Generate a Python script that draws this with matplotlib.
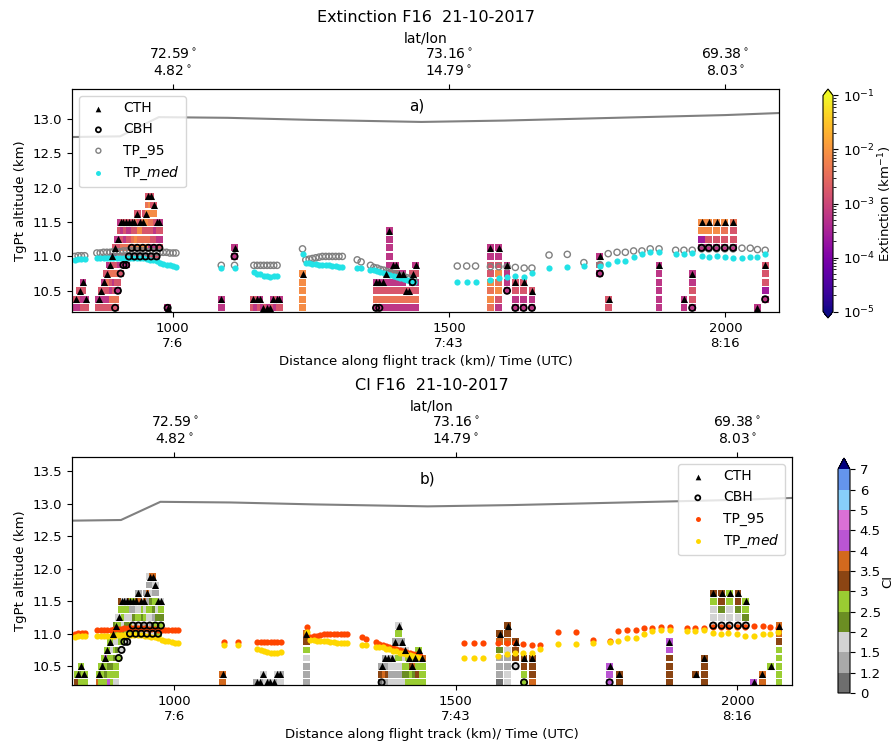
import numpy as np
import matplotlib
matplotlib.use("Agg")
import matplotlib.pyplot as plt
from matplotlib.colors import LogNorm, ListedColormap, BoundaryNorm
from matplotlib.cm import ScalarMappable

plt.rcParams['font.size'] = 9.5

# vertical grid of the profiles (km)
lvl0, dz = 10.25, 0.125

# flight altitude
flight_km = [818, 905, 975, 1100, 1250, 1450, 1600, 1800, 2000, 2098]
flight_alt = [12.74, 12.75, 13.03, 13.02, 12.99, 12.96, 12.98, 13.02, 13.06, 13.09]

# tropopause (95th percentile / median)
tp_km = [823, 829, 835, 841,
         863, 869, 875, 881, 887, 893, 899, 905, 911, 917, 923, 929, 935, 941, 947, 953, 959, 965, 971, 977, 983, 989, 995, 1001, 1006,
         1088, 1112,
         1147, 1153, 1159, 1165, 1171, 1177, 1183, 1189,
         1235,
         1241, 1247, 1253, 1259, 1265, 1271, 1277, 1283, 1289, 1295, 1301, 1307,
         1334, 1341, 1358,
         1364, 1370, 1376, 1382, 1388, 1394, 1400, 1406, 1412, 1418, 1424, 1430, 1436,
         1515, 1532, 1548,
         1575, 1590, 1605, 1620, 1636, 1650,
         1681, 1714, 1744, 1773, 1788, 1804, 1819, 1834, 1849, 1864, 1880,
         1910, 1925, 1940, 1957, 1970, 1984, 1999, 2014, 2030, 2045, 2058, 2072]
tp95 = [11.00, 11.01, 11.01, 11.01,
        11.05, 11.05, 11.06, 11.06, 11.06, 11.07, 11.07, 11.07, 11.08, 11.08, 11.08, 11.08, 11.08, 11.08, 11.08,
        11.07, 11.07, 11.07, 11.06, 11.06, 11.06, 11.06, 11.05, 11.05, 11.05,
        10.87, 10.87,
        10.87, 10.87, 10.87, 10.87, 10.87, 10.87, 10.87, 10.87,
        11.11,
        10.95, 10.96, 10.97, 10.98, 10.99, 11.00, 11.00, 11.00, 11.00, 11.00, 11.00, 11.00,
        10.95, 10.92, 10.87,
        10.84, 10.83, 10.81, 10.80, 10.78, 10.77, 10.75, 10.74, 10.72, 10.71, 10.69, 10.68, 10.66,
        10.86, 10.86, 10.86,
        10.85, 10.85, 10.85, 10.84, 10.83, 10.83,
        11.02, 11.03, 10.91, 10.88, 11.04, 11.06, 11.06, 11.08, 11.08, 11.11, 11.11,
        11.09, 11.09, 11.09, 11.11, 11.11, 11.11, 11.11, 11.11, 11.12, 11.12, 11.10, 11.09]
tpmed = [10.95, 10.96, 10.96, 10.96,
         10.97, 10.97, 10.97, 10.97, 10.97, 10.97, 10.98, 10.98, 10.98, 10.98, 10.98, 10.98, 10.98, 10.98,
         10.97, 10.96, 10.95, 10.95, 10.93, 10.91, 10.89, 10.88, 10.87, 10.86, 10.85,
         10.83, 10.83,
         10.77, 10.75, 10.74, 10.72, 10.71, 10.70, 10.71, 10.72,
         11.03,
         10.90, 10.90, 10.89, 10.89, 10.88, 10.88, 10.87, 10.87, 10.86, 10.86, 10.85, 10.85,
         10.83, 10.83, 10.80,
         10.80, 10.79, 10.77, 10.76, 10.74, 10.73, 10.71, 10.70, 10.68, 10.67, 10.65, 10.64, 10.63,
         10.63, 10.63, 10.63,
         10.655, 10.68, 10.70, 10.71, 10.70, 10.76,
         10.835, 10.84, 10.86, 10.865, 10.885, 10.93, 10.94, 10.99, 11.04, 11.06, 11.06,
         11.04, 11.04, 11.05, 11.01, 10.99, 11.01, 10.99, 10.97, 10.97, 10.99, 10.99, 11.03]

# --- panel a: extinction profiles (cells listed from base level upward) ---
ext_val = {'v': 2.5e-4, 'm': 6e-4, 'p': 1.6e-3, 's': 4e-3, 'o': 8e-3}
ext_km = [826, 832, 838, 843,
          866, 871, 876, 881, 886, 891, 896, 901, 906, 911, 916, 921, 926, 931, 936, 941, 946, 951, 956, 961, 966, 971, 976,
          991, 1088, 1112,
          1146, 1152, 1158, 1164, 1170, 1176, 1182, 1188, 1193,
          1235,
          1368, 1374, 1380, 1386, 1392, 1398, 1404, 1410, 1416, 1422, 1428, 1434, 1440,
          1575, 1590, 1605, 1620, 1635, 1650,
          1773, 1789, 1880, 1925, 1940,
          1957, 1970, 1984, 1999, 2014, 2058, 2072]
ext_base = [0, 0, 0, 0,
            0, 0, 0, 0, 0, 0, 0, 2, 4, 5, 5, 6, 7, 6, 7, 6, 7, 6, 7, 6, 7, 6, 7,
            0, 0, 6,
            0, 0, 0, 0, 0, 0, 0, 0, 0,
            0,
            0, 0, 0, 0, 0, 0, 0, 0, 0, 0, 0, 0, 0,
            0, 0, 2, 0, 0, 0,
            4, 0, 0, 0, 0,
            7, 7, 7, 7, 7, 0, 1]
ext_cells = ["mp", "mpp", "pmpm", "pm",
             "pm", "pmp", "pmpm", "pmpmp", "pmpspm", "psmpspm", "pspmspmp", "mpspmpm", "pmspmpm",
             "mpspmp", "mpsmpp", "pspmp", "spmp", "psspp", "sopsp", "posop", "osop", "pospop",
             "ospoosp", "pmspsoop", "mppsop", "pmpmp", "pmpm",
             "m", "mm", "mm",
             "pp", "mp", "pm", "m", "p", "m", "pm", "mp", "pm",
             "ooooo",
             "mspm", "mspm", "mspm", "mspmp", "mspmmmmmmm", "mspmpm", "mspmpm", "mspmp", "mspmm",
             "msp", "msp", "mspmp", "mspmpm",
             "sosoppmm", "mposopmm", "mmmm", "mmpp", "mmpp", "mmp",
             "mpm", "pp", "mmmmmm", "mm", "mppmm",
             "mvoo", "mpoo", "mpoo", "mpso", "mpps", "m", "mvppp"]
ext_cth = [1, 2, 3, 1,
           1, 2, 3, 4, 5, 6, 7, 8, 10, 10, 10, 10, 10, 10, 11, 10, 10, 11, 13, 13, 12, 10, 10,
           0, 1, 7,
           1, 1, 1, 0, 0, 0, 1, 1, 1,
           4,
           3, 3, 3, 4, 9, 5, 5, 4, 4, 2, 2, 4, 5,
           7, 7, 5, 3, 3, 2,
           6, 1, 5, 1, 4,
           10, 10, 10, 10, 10, 0, 5]
ext_cbh = [None, None, None, None,
           None, None, None, None, None, None, 0, 2, 4, 5, 5, 6, 7, 6, 7, 6, 7, 6, 7, 6, 7, 6, 7,
           0, None, 6,
           None, None, None, None, None, None, None, None, None,
           None,
           0, 0, None, None, None, None, None, None, None, None, None, 3, None,
           None, None, 2, 0, 0, 0,
           4, None, None, None, 0,
           7, 7, 7, 7, 7, None, 1]

# --- panel b: cloud index profiles ---
ci_bounds = [0, 1.2, 1.5, 2, 2.5, 3, 3.5, 4, 4.5, 5, 6, 7]
ci_colors = ['#6e6e6e', '#a9a9a9', '#d3d3d3', '#6b8e23', '#9acd32', '#8b4513',
             '#d2691e', '#ba55d3', '#da70d6', '#87cefa', '#6495ed']
ci_val = {'k': 1.0, 'g': 1.35, 'l': 1.75, 'O': 2.25, 'y': 2.75, 'b': 3.25,
          'c': 3.75, 'v': 4.25, 'r': 4.75, 's': 5.5}
ci_km = [828, 834, 840,
         866, 871, 876, 881, 886, 891, 896, 901, 906, 911, 916, 921, 926, 931, 936, 941, 946, 951, 956, 961, 966, 971, 976,
         1086,
         1146, 1152, 1158, 1164, 1170, 1176, 1182, 1188,
         1234,
         1368, 1374, 1380, 1386, 1392, 1398, 1404, 1410, 1416, 1422, 1428, 1434, 1440,
         1578, 1592, 1606, 1621, 1636,
         1773, 1790, 1879, 1926, 1941,
         1957, 1972, 1986, 2001, 2015,
         2029, 2044, 2059, 2074]
ci_base = [0, 0, 0,
           0, 0, 0, 0, 0, 0, 0, 3, 4, 5, 5, 6, 7, 6, 7, 6, 7, 6, 7, 6, 7, 6, 7,
           0,
           0, 0, 0, 0, 0, 0, 0, 0,
           0,
           0, 0, 0, 0, 0, 0, 0, 0, 0, 0, 0, 0, 0,
           0, 0, 2, 0, 0,
           0, 0, 0, 1, 0,
           7, 7, 7, 7, 7,
           0, 0, 2, 0]
ci_cells = ["by", "yOy", "yy",
            "cy", "yOy", "yyOy", "yOyvy", "vyOyyy", "yyOylyy", "lyyOylyO", "yOlyyl", "lyOylyb",
            "yOlyyl", "lyOlyg", "yOlyb", "ylgy", "ylOgy", "gylbg", "glylc", "gOyl", "lgylcg",
            "llygcgl", "lglyOlgc", "ygOygl", "yyOly", "yOyl",
            "cc",
            "g", "l", "gl", "l", "g", "l", "gl", "lg",
            "ggglybc",
            "kbg", "gcgg", "gbgl", "lglg", "lgllyg", "lglyOgyl", "lglylg", "lOyll", "yOyy",
            "yyb", "yOcy", "ybyOy", "yyyc",
            "kgggOcb", "llgglcbb", "lbbb", "yybb", "cbbb",
            "vvv", "bb", "bbbbvv", "b", "bbbb",
            "lllyb", "llObb", "lllyy", "llObb", "lOyy",
            "v", "cc", "y", "yyyyybcc"]
ci_cth = [1, 2, 1,
          1, 2, 3, 4, 5, 6, 7, 8, 10, 10, 10, 10, 10, 10, 11, 10, 10, 11, 13, 13, 12, 10, 10,
          1,
          0, 0, 1, 0, 0, 0, 1, 1,
          6,
          2, 3, 3, 3, 5, 7, 5, 4, 3, 2, 3, 4, 3,
          6, 7, 5, 3, 3,
          2, 1, 5, 1, 3,
          11, 11, 11, 11, 10,
          0, 1, 2, 7]
ci_cbh = [None, None, None,
          None, None, None, None, None, None, None, 3, 4, 5, 5, 6, 7, 6, 7, 6, 7, 6, 7, 6, 7, 6, 7,
          None,
          None, None, None, None, None, None, None, None,
          None,
          0, None, None, None, None, None, None, None, None, None, None, None, None,
          None, None, 2, 0, None,
          0, None, None, None, None,
          7, 7, 7, 7, 7,
          None, None, None, None]

xticks = [1000, 1500, 2000]
xtick_labels = ['1000\n7:6', '1500\n7:43', '2000\n8:16']
top_labels = ['72.59$^\\circ$\n4.82$^\\circ$', '73.16$^\\circ$\n14.79$^\\circ$', '69.38$^\\circ$\n8.03$^\\circ$']


def cells_xy(km, base, cells, lut):
    xs, ys, vs = [], [], []
    for x, b, s in zip(km, base, cells):
        for k, ch in enumerate(s):
            xs.append(x); ys.append(lvl0 + (b + k) * dz); vs.append(lut[ch])
    return np.array(xs), np.array(ys), np.array(vs)


def levels(km, lv):
    pts = [(x, lvl0 + l * dz) for x, l in zip(km, lv) if l is not None]
    return np.array([p[0] for p in pts]), np.array([p[1] for p in pts])


def draw_panel(ax, km, base, cells, cth, cbh, lut, cmap, norm, tp95_kw, tpmed_kw, ylim, title, letter, letter_xy, legend_loc):
    x, y, v = cells_xy(km, base, cells, lut)
    sc = ax.scatter(x, y, c=v, cmap=cmap, norm=norm, marker='s', s=24, linewidths=0, zorder=2)
    ax.plot(flight_km, flight_alt, color='gray', lw=1.5, zorder=1)
    h95 = ax.scatter(tp_km, tp95, s=20, zorder=3, label='TP_95', **tp95_kw)
    hmed = ax.scatter(tp_km, tpmed, s=20, zorder=4, label='TP_$med$', **tpmed_kw)
    xt, yt = levels(km, cth)
    hcth = ax.scatter(xt, yt, marker='^', s=26, color='k', linewidths=0, zorder=5, label='CTH')
    xb, yb = levels(km, cbh)
    hcbh = ax.scatter(xb, yb, marker='o', s=20, facecolors='none', edgecolors='k', linewidths=1.3, zorder=6, label='CBH')
    ax.set_xlim(818, 2097)
    ax.set_ylim(*ylim)
    ax.set_xticks(xticks)
    ax.set_xticklabels(xtick_labels)
    ax.set_xlabel('Distance along flight track (km)/ Time (UTC)')
    ax.set_ylabel('TgPt altitude (km)')
    ax.text(letter_xy[0], letter_xy[1], letter, transform=ax.transAxes, fontsize=11, ha='center', va='center')
    ax.legend([hcth, hcbh, h95, hmed], ['CTH', 'CBH', 'TP_95', 'TP_$med$'], loc=legend_loc,
              fontsize=10, markerscale=0.8)
    axt = ax.twiny()
    axt.set_xlim(ax.get_xlim())
    axt.set_xticks(xticks)
    axt.set_xticklabels(top_labels, fontsize=10)
    axt.set_xlabel('lat/lon', fontsize=10)
    axt.set_title(title, fontsize=11.5, pad=7)
    return sc


W, H = 896, 745
fig = plt.figure(figsize=(W / 100, H / 100), dpi=100)


def rect(l, t, r, b):
    return [l / W, 1 - b / H, (r - l) / W, (b - t) / H]


ax1 = fig.add_axes(rect(72, 89, 779, 312))
cax1 = fig.add_axes(rect(823, 89, 833, 318))
ax2 = fig.add_axes(rect(72, 457, 792, 685))
cax2 = fig.add_axes(rect(838, 458, 850, 693))

ext_norm = LogNorm(1e-5, 1e-1)
sc1 = draw_panel(ax1, ext_km, ext_base, ext_cells, ext_cth, ext_cbh, ext_val, 'plasma', ext_norm,
                 dict(facecolors='none', edgecolors='gray', linewidths=1.0),
                 dict(color='#22e2e6', linewidths=0),
                 (10.19, 13.44), 'Extinction F16  21-10-2017', 'a)', (0.487, 0.924), 'upper left')
cb1 = fig.colorbar(sc1, cax=cax1, extend='both', extendfrac=0.03)
cb1.set_label('Extinction (km$^{-1}$)', labelpad=1)

ci_cmap = ListedColormap(ci_colors)
ci_cmap.set_over('navy')
ci_norm = BoundaryNorm(ci_bounds, ci_cmap.N)
draw_panel(ax2, ci_km, ci_base, ci_cells, ci_cth, ci_cbh, ci_val, ci_cmap, ci_norm,
           dict(color='orangered', linewidths=0),
           dict(color='gold', linewidths=0),
           (10.21, 13.72), 'CI F16  21-10-2017', 'b)', (0.493, 0.904), 'upper right')
cb2 = fig.colorbar(ScalarMappable(norm=ci_norm, cmap=ci_cmap), cax=cax2, extend='max',
                   ticks=ci_bounds, spacing='uniform')
cb2.set_ticklabels([f'{b:g}' for b in ci_bounds])
cb2.set_label('CI', labelpad=0)

fig.savefig('out.png', dpi=100)
